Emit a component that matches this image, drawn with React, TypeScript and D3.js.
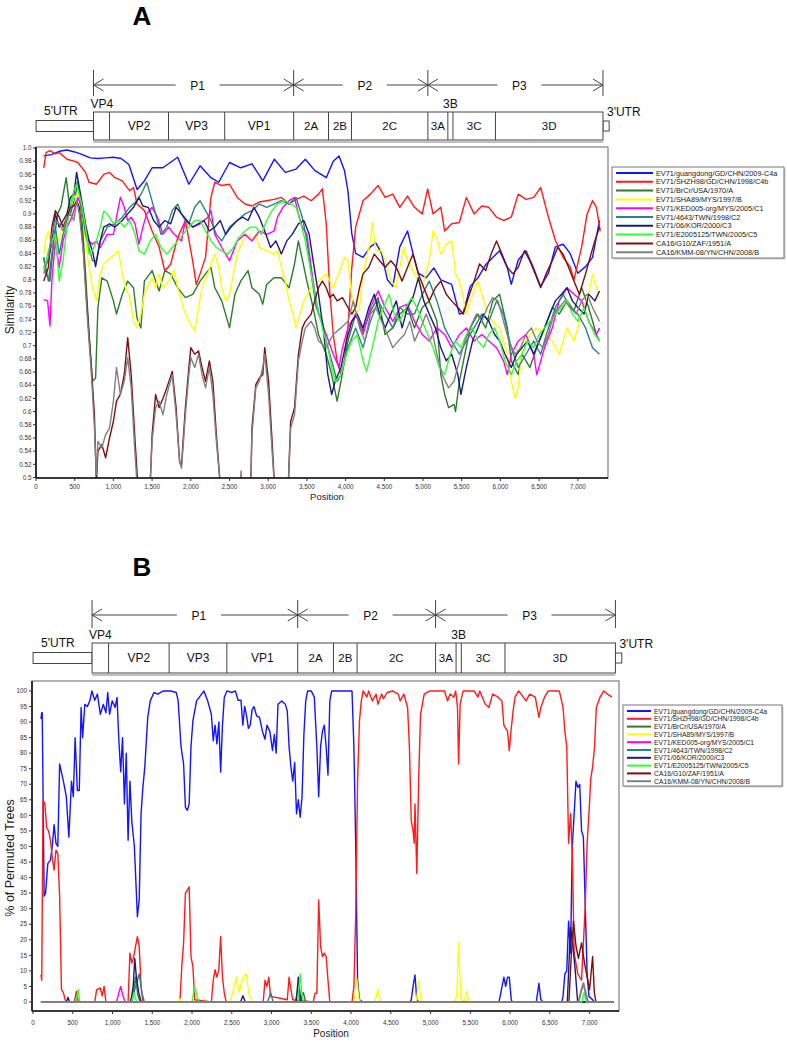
import React from "react";
import * as d3 from "d3";

const seriesNames = [
  "EV71/guangdong/GD/CHN/2009-C4a",
  "EV71/SHZH98/GD/CHN/1998/C4b",
  "EV71/BrCr/USA/1970/A",
  "EV71/SHA89/MYS/1997/B",
  "EV71/KED005-org/MYS/2005/C1",
  "EV71/4643/TWN/1998/C2",
  "EV71/06/KOR/2000/C3",
  "EV71/E2005125/TWN/2005/C5",
  "CA16/G10/ZAF/1951/A",
  "CA16/KMM-08/YN/CHN/2008/B",
];
const seriesColors = ["#1414ff", "#ff1c1c", "#2b7d2b", "#ffff00", "#ff00ff", "#2e8282", "#1c1c78", "#33ff33", "#7a1010", "#808080"];

// genome map (nt positions)
const utr5 = [1, 742];
const utr3 = [7325, 7405];
const segNames = ["VP4", "VP2", "VP3", "VP1", "2A", "2B", "2C", "3A", "3B", "3C", "3D"];
const segStarts = [743, 950, 1712, 2438, 3329, 3779, 4076, 5063, 5321, 5387, 5936];
const genomeEnd = 7324;
const polyNames = ["P1", "P2", "P3"];
const polyStarts = [743, 3329, 5063];

const xTicks = [0, 500, 1000, 1500, 2000, 2500, 3000, 3500, 4000, 4500, 5000, 5500, 6000, 6500, 7000];

// Panel A: similarity
const simGuangdong = [[100,0.988],[200,0.99],[300,0.995],[400,0.997],[500,0.994],[600,0.99],[700,0.985],[800,0.984],[900,0.985],[1000,0.986],[1100,0.984],[1200,0.975],[1306,0.937],[1400,0.95],[1500,0.97],[1640,0.97],[1830,0.986],[1975,0.945],[2120,0.973],[2260,0.955],[2360,0.948],[2500,0.978],[2645,0.97],[2790,0.976],[2930,0.95],[3080,0.983],[3220,0.963],[3360,0.968],[3480,0.983],[3600,0.966],[3750,0.955],[3840,0.98],[3915,0.988],[3985,0.966],[4030,0.935],[4080,0.87],[4130,0.84],[4225,0.834],[4320,0.85],[4390,0.856],[4465,0.84],[4540,0.8],[4610,0.79],[4700,0.85],[4800,0.874],[4870,0.84],[4940,0.81],[5040,0.803],[5140,0.818],[5230,0.8],[5370,0.793],[5470,0.748],[5520,0.75],[5610,0.79],[5710,0.803],[5810,0.823],[5900,0.834],[5990,0.844],[6090,0.818],[6140,0.793],[6230,0.83],[6330,0.844],[6420,0.82],[6520,0.79],[6620,0.81],[6710,0.85],[6810,0.854],[6900,0.84],[7000,0.81],[7100,0.82],[7190,0.834],[7280,0.89]];
const simSHZH98 = [[100,0.97],[130,0.993],[180,0.996],[250,0.991],[300,0.993],[400,0.983],[490,0.98],[540,0.978],[640,0.963],[685,0.948],[780,0.945],[875,0.96],[950,0.963],[1020,0.955],[1115,0.95],[1210,0.935],[1260,0.94],[1305,0.915],[1400,0.905],[1500,0.874],[1590,0.85],[1665,0.813],[1740,0.824],[1830,0.864],[1930,0.89],[2025,0.828],[2070,0.793],[2120,0.809],[2190,0.834],[2260,0.925],[2310,0.948],[2400,0.943],[2500,0.945],[2600,0.925],[2700,0.915],[2790,0.912],[2885,0.918],[2980,0.92],[3075,0.922],[3170,0.925],[3270,0.915],[3360,0.922],[3460,0.927],[3555,0.92],[3650,0.93],[3700,0.938],[3750,0.885],[3795,0.783],[3840,0.717],[3890,0.677],[3940,0.656],[3985,0.677],[4030,0.727],[4080,0.818],[4130,0.88],[4225,0.92],[4320,0.93],[4420,0.943],[4510,0.925],[4610,0.93],[4700,0.91],[4800,0.927],[4890,0.91],[4990,0.9],[5060,0.938],[5130,0.9],[5230,0.91],[5280,0.874],[5370,0.885],[5470,0.887],[5560,0.925],[5660,0.9],[5760,0.912],[5850,0.91],[5950,0.895],[6040,0.89],[6140,0.895],[6230,0.93],[6330,0.922],[6430,0.925],[6520,0.94],[6620,0.895],[6710,0.86],[6810,0.834],[6900,0.82],[6950,0.8],[7050,0.85],[7120,0.9],[7190,0.92],[7240,0.91],[7290,0.874]];
const simBrCr = [[100,0.834],[130,0.809],[180,0.798],[230,0.859],[280,0.9],[325,0.912],[390,0.955],[445,0.9],[490,0.92],[540,0.945],[590,0.9],[640,0.809],[685,0.717],[730,0.646],[770,0.651],[800,0.758],[850,0.803],[920,0.798],[1000,0.768],[1040,0.748],[1115,0.778],[1185,0.798],[1260,0.788],[1305,0.742],[1355,0.727],[1400,0.798],[1500,0.814],[1590,0.783],[1665,0.814],[1740,0.809],[1830,0.788],[1930,0.773],[2025,0.778],[2120,0.798],[2190,0.809],[2260,0.819],[2310,0.788],[2400,0.768],[2500,0.727],[2570,0.778],[2645,0.798],[2740,0.814],[2790,0.788],[2885,0.778],[2930,0.763],[2980,0.793],[3075,0.803],[3170,0.803],[3270,0.788],[3340,0.824],[3390,0.859],[3500,0.798],[3580,0.758],[3650,0.717],[3750,0.687],[3820,0.656],[3890,0.616],[3940,0.646],[4030,0.707],[4130,0.748],[4225,0.722],[4320,0.752],[4420,0.773],[4510,0.717],[4610,0.727],[4700,0.748],[4800,0.758],[4890,0.727],[4990,0.758],[5080,0.768],[5180,0.737],[5230,0.656],[5280,0.626],[5330,0.606],[5400,0.611],[5420,0.6],[5470,0.646],[5540,0.687],[5610,0.727],[5710,0.748],[5810,0.727],[5900,0.768],[5990,0.778],[6090,0.727],[6140,0.677],[6230,0.656],[6280,0.687],[6380,0.667],[6470,0.697],[6570,0.727],[6670,0.758],[6760,0.748],[6860,0.768],[6950,0.753],[7050,0.788],[7140,0.758],[7240,0.717],[7280,0.707]];
const simSHA89 = [[100,0.839],[130,0.864],[160,0.874],[205,0.849],[250,0.864],[300,0.859],[350,0.885],[400,0.9],[445,0.91],[490,0.925],[540,0.93],[590,0.91],[640,0.859],[685,0.819],[730,0.788],[780,0.768],[830,0.809],[875,0.824],[920,0.829],[970,0.834],[1020,0.839],[1065,0.844],[1115,0.809],[1160,0.788],[1210,0.773],[1260,0.737],[1305,0.727],[1355,0.748],[1400,0.778],[1450,0.793],[1500,0.803],[1545,0.788],[1590,0.809],[1640,0.788],[1715,0.798],[1785,0.814],[1830,0.788],[1880,0.768],[1930,0.748],[1975,0.737],[2050,0.722],[2100,0.758],[2145,0.788],[2220,0.809],[2260,0.824],[2310,0.839],[2360,0.819],[2400,0.788],[2450,0.768],[2500,0.778],[2550,0.809],[2600,0.839],[2670,0.859],[2740,0.869],[2790,0.859],[2840,0.869],[2885,0.849],[2980,0.844],[3075,0.839],[3120,0.844],[3170,0.819],[3220,0.798],[3270,0.768],[3320,0.748],[3360,0.727],[3410,0.748],[3460,0.768],[3555,0.788],[3650,0.798],[3750,0.809],[3840,0.788],[3940,0.819],[3985,0.834],[4030,0.829],[4080,0.773],[4130,0.748],[4180,0.758],[4225,0.809],[4270,0.834],[4320,0.859],[4345,0.887],[4390,0.844],[4465,0.844],[4510,0.829],[4585,0.798],[4655,0.788],[4700,0.819],[4750,0.849],[4800,0.829],[4890,0.809],[4990,0.788],[5080,0.829],[5130,0.874],[5180,0.864],[5230,0.839],[5300,0.854],[5370,0.859],[5420,0.809],[5470,0.798],[5520,0.773],[5560,0.748],[5610,0.768],[5710,0.798],[5810,0.758],[5900,0.737],[5990,0.727],[6090,0.687],[6140,0.646],[6190,0.62],[6230,0.636],[6280,0.697],[6380,0.717],[6470,0.727],[6570,0.717],[6670,0.707],[6760,0.687],[6860,0.727],[6950,0.707],[7050,0.748],[7140,0.778],[7190,0.809],[7280,0.773]];
const simKED005 = [[100,0.77],[150,0.768],[180,0.73],[205,0.798],[250,0.859],[300,0.819],[350,0.859],[400,0.88],[445,0.89],[490,0.905],[540,0.925],[590,0.91],[640,0.88],[685,0.859],[730,0.854],[780,0.859],[830,0.849],[875,0.859],[920,0.869],[1000,0.869],[1040,0.895],[1090,0.925],[1140,0.91],[1185,0.89],[1230,0.895],[1280,0.885],[1330,0.854],[1380,0.88],[1430,0.9],[1500,0.91],[1570,0.895],[1640,0.869],[1715,0.88],[1785,0.869],[1880,0.859],[1930,0.89],[2025,0.88],[2120,0.885],[2220,0.895],[2260,0.905],[2310,0.869],[2400,0.849],[2500,0.829],[2600,0.859],[2700,0.869],[2790,0.859],[2885,0.874],[2980,0.869],[3075,0.874],[3120,0.895],[3190,0.91],[3270,0.92],[3340,0.925],[3390,0.9],[3440,0.88],[3500,0.869],[3580,0.798],[3650,0.748],[3750,0.717],[3840,0.687],[3915,0.667],[3960,0.697],[4030,0.727],[4130,0.748],[4225,0.717],[4320,0.758],[4420,0.783],[4510,0.758],[4610,0.737],[4700,0.758],[4800,0.763],[4890,0.737],[4990,0.717],[5080,0.707],[5180,0.727],[5280,0.717],[5370,0.697],[5470,0.717],[5560,0.727],[5660,0.707],[5760,0.717],[5850,0.707],[5950,0.697],[6040,0.677],[6090,0.656],[6140,0.687],[6230,0.707],[6330,0.717],[6430,0.687],[6470,0.656],[6570,0.697],[6670,0.727],[6760,0.768],[6860,0.788],[6950,0.778],[7050,0.768],[7140,0.737],[7240,0.717],[7280,0.727]];
const sim4643 = [[100,0.834],[160,0.798],[205,0.839],[250,0.88],[300,0.839],[350,0.869],[400,0.89],[445,0.91],[490,0.935],[540,0.95],[590,0.91],[640,0.869],[685,0.849],[730,0.829],[780,0.829],[830,0.859],[875,0.869],[920,0.88],[1020,0.885],[1115,0.895],[1210,0.91],[1305,0.92],[1380,0.935],[1430,0.948],[1475,0.93],[1545,0.9],[1615,0.869],[1690,0.88],[1760,0.905],[1830,0.915],[1880,0.9],[1930,0.89],[1975,0.885],[2050,0.91],[2120,0.92],[2190,0.905],[2260,0.89],[2330,0.869],[2400,0.859],[2500,0.88],[2600,0.89],[2700,0.9],[2790,0.905],[2885,0.915],[2980,0.91],[3075,0.915],[3170,0.92],[3270,0.915],[3360,0.925],[3440,0.895],[3500,0.859],[3555,0.809],[3620,0.758],[3700,0.737],[3750,0.707],[3820,0.677],[3890,0.646],[3940,0.656],[4030,0.697],[4130,0.727],[4225,0.697],[4320,0.737],[4420,0.768],[4510,0.748],[4610,0.727],[4700,0.758],[4800,0.748],[4890,0.748],[4990,0.778],[5080,0.798],[5180,0.768],[5280,0.727],[5370,0.707],[5470,0.687],[5560,0.707],[5660,0.727],[5760,0.748],[5850,0.737],[5950,0.768],[6040,0.748],[6140,0.697],[6230,0.667],[6330,0.687],[6430,0.707],[6520,0.687],[6620,0.727],[6710,0.758],[6810,0.778],[6900,0.758],[7000,0.748],[7100,0.727],[7190,0.697],[7280,0.687]];
const simKOR = [[100,0.819],[160,0.829],[205,0.859],[250,0.9],[300,0.88],[350,0.89],[400,0.9],[445,0.925],[490,0.93],[525,0.963],[590,0.92],[640,0.885],[685,0.859],[730,0.844],[770,0.82],[830,0.859],[875,0.88],[950,0.885],[1020,0.88],[1115,0.89],[1185,0.9],[1260,0.91],[1330,0.925],[1380,0.912],[1450,0.91],[1520,0.89],[1590,0.88],[1665,0.89],[1740,0.885],[1810,0.91],[1880,0.9],[1950,0.89],[2025,0.88],[2095,0.885],[2170,0.89],[2240,0.874],[2310,0.88],[2380,0.89],[2450,0.869],[2520,0.88],[2600,0.89],[2670,0.895],[2740,0.89],[2815,0.91],[2885,0.895],[2955,0.874],[3030,0.849],[3100,0.859],[3170,0.839],[3240,0.859],[3310,0.869],[3390,0.885],[3460,0.89],[3530,0.869],[3580,0.829],[3650,0.778],[3720,0.717],[3770,0.656],[3820,0.626],[3865,0.646],[3940,0.667],[4010,0.707],[4080,0.737],[4150,0.748],[4225,0.727],[4300,0.758],[4370,0.778],[4440,0.748],[4510,0.727],[4585,0.748],[4655,0.768],[4730,0.727],[4800,0.758],[4870,0.773],[4940,0.803],[5010,0.768],[5080,0.748],[5160,0.727],[5230,0.697],[5300,0.677],[5370,0.687],[5450,0.656],[5490,0.626],[5560,0.667],[5640,0.707],[5710,0.727],[5780,0.748],[5850,0.737],[5925,0.717],[5990,0.707],[6060,0.687],[6140,0.667],[6210,0.687],[6280,0.697],[6350,0.707],[6430,0.687],[6500,0.707],[6570,0.727],[6640,0.748],[6710,0.768],[6790,0.778],[6860,0.788],[6930,0.768],[7000,0.758],[7080,0.748],[7140,0.778],[7220,0.768],[7280,0.783]];
const simE2005125 = [[100,0.814],[160,0.844],[205,0.859],[250,0.869],[300,0.798],[350,0.829],[400,0.88],[445,0.91],[490,0.935],[525,0.945],[590,0.915],[640,0.88],[685,0.839],[730,0.844],[780,0.859],[830,0.88],[875,0.904],[920,0.9],[1000,0.885],[1065,0.89],[1140,0.88],[1210,0.89],[1280,0.869],[1330,0.844],[1400,0.839],[1475,0.859],[1545,0.869],[1615,0.849],[1690,0.839],[1760,0.849],[1830,0.859],[1900,0.869],[1975,0.88],[2050,0.89],[2120,0.89],[2190,0.874],[2260,0.859],[2330,0.849],[2400,0.844],[2480,0.839],[2550,0.849],[2620,0.864],[2700,0.874],[2770,0.88],[2840,0.88],[2910,0.869],[2980,0.89],[3050,0.905],[3120,0.915],[3220,0.92],[3290,0.915],[3360,0.91],[3410,0.89],[3480,0.859],[3555,0.809],[3620,0.768],[3700,0.727],[3770,0.697],[3820,0.667],[3865,0.646],[3940,0.656],[4010,0.687],[4080,0.707],[4150,0.717],[4225,0.677],[4270,0.661],[4345,0.697],[4420,0.737],[4490,0.758],[4560,0.778],[4630,0.748],[4700,0.737],[4780,0.758],[4850,0.773],[4920,0.758],[4990,0.737],[5060,0.717],[5130,0.697],[5210,0.667],[5280,0.656],[5350,0.687],[5420,0.707],[5490,0.697],[5560,0.717],[5640,0.727],[5710,0.707],[5780,0.697],[5850,0.717],[5925,0.727],[5990,0.707],[6060,0.677],[6140,0.656],[6210,0.677],[6280,0.687],[6350,0.707],[6430,0.697],[6500,0.717],[6570,0.727],[6640,0.737],[6710,0.748],[6790,0.758],[6860,0.768],[6930,0.748],[7000,0.737],[7080,0.758],[7140,0.737],[7220,0.717],[7280,0.707]];
const simG10 = [[100,0.798],[160,0.819],[205,0.88],[250,0.905],[300,0.895],[350,0.88],[400,0.895],[445,0.91],[490,0.912],[525,0.92],[560,0.91],[610,0.849],[660,0.758],[710,0.677],[755,0.595],[780,0.49],[800,0.54],[850,0.55],[900,0.53],[950,0.56],[1000,0.585],[1040,0.616],[1090,0.626],[1140,0.656],[1185,0.712],[1230,0.656],[1280,0.555],[1315,0.49],[1475,0.49],[1500,0.565],[1545,0.626],[1590,0.606],[1640,0.62],[1690,0.636],[1760,0.661],[1810,0.606],[1855,0.524],[1880,0.519],[1930,0.606],[1975,0.667],[2000,0.697],[2050,0.687],[2100,0.692],[2145,0.667],[2190,0.646],[2240,0.677],[2285,0.646],[2330,0.565],[2380,0.49],[2775,0.49],[2790,0.575],[2840,0.641],[2885,0.651],[2930,0.656],[2955,0.697],[3005,0.646],[3050,0.555],[3080,0.49],[3260,0.49],[3290,0.585],[3340,0.606],[3390,0.687],[3440,0.727],[3480,0.737],[3555,0.748],[3600,0.768],[3650,0.788],[3700,0.798],[3750,0.788],[3795,0.773],[3840,0.778],[3890,0.768],[3960,0.773],[4030,0.758],[4080,0.748],[4130,0.758],[4180,0.788],[4225,0.809],[4300,0.819],[4370,0.839],[4440,0.829],[4510,0.819],[4585,0.829],[4655,0.819],[4730,0.798],[4800,0.819],[4870,0.839],[4940,0.809],[5010,0.788],[5080,0.768],[5160,0.788],[5230,0.798],[5300,0.778],[5370,0.768],[5450,0.758],[5520,0.748],[5600,0.778],[5660,0.798],[5730,0.824],[5810,0.814],[5880,0.839],[5950,0.859],[6020,0.839],[6090,0.819],[6160,0.809],[6230,0.819],[6310,0.844],[6380,0.829],[6450,0.809],[6520,0.788],[6590,0.809],[6670,0.829],[6740,0.849],[6810,0.839],[6880,0.819],[6950,0.798],[7020,0.778],[7100,0.809],[7170,0.839],[7220,0.859],[7280,0.88]];
const simKMM08 = [[100,0.809],[160,0.834],[205,0.869],[250,0.89],[300,0.885],[350,0.874],[400,0.895],[445,0.9],[490,0.89],[525,0.92],[560,0.9],[610,0.844],[660,0.748],[710,0.667],[755,0.575],[780,0.504],[800,0.555],[850,0.545],[900,0.565],[950,0.575],[1000,0.616],[1040,0.667],[1090,0.626],[1140,0.646],[1185,0.682],[1230,0.636],[1280,0.535],[1305,0.49],[1475,0.49],[1500,0.555],[1545,0.606],[1590,0.616],[1640,0.595],[1690,0.626],[1760,0.656],[1810,0.595],[1855,0.524],[1880,0.514],[1930,0.595],[1975,0.656],[2000,0.682],[2050,0.667],[2100,0.687],[2145,0.656],[2190,0.636],[2240,0.667],[2285,0.626],[2330,0.555],[2380,0.49],[2640,0.49],[2650,0.51],[2660,0.49],[2775,0.49],[2790,0.565],[2840,0.636],[2885,0.646],[2930,0.667],[2955,0.687],[3005,0.626],[3050,0.54],[3080,0.49],[3260,0.49],[3290,0.575],[3340,0.595],[3390,0.677],[3440,0.707],[3480,0.727],[3555,0.737],[3600,0.727],[3650,0.707],[3750,0.697],[3840,0.717],[3940,0.727],[4030,0.737],[4100,0.768],[4180,0.727],[4250,0.707],[4320,0.748],[4390,0.758],[4465,0.737],[4540,0.717],[4610,0.697],[4680,0.707],[4760,0.717],[4830,0.737],[4890,0.707],[4970,0.727],[5040,0.748],[5110,0.727],[5180,0.687],[5250,0.656],[5330,0.636],[5400,0.646],[5470,0.677],[5540,0.707],[5610,0.727],[5690,0.748],[5760,0.737],[5830,0.758],[5900,0.773],[5970,0.768],[6040,0.737],[6110,0.707],[6190,0.687],[6260,0.697],[6330,0.717],[6400,0.727],[6470,0.707],[6550,0.697],[6620,0.717],[6690,0.748],[6760,0.758],[6830,0.768],[6900,0.758],[6980,0.748],[7050,0.768],[7120,0.778],[7190,0.758],[7280,0.737]];

// Panel B: % of permuted trees
const bootGuangdong = [[100,91],[110,93],[116,93],[140,34],[158,35],[186,44.5],[219,45.6],[242,50],[265,57],[289,51],[312,50],[335,76.5],[382,71],[419,66],[451,53],[484,71],[507,66],[530,85],[558,68],[582,68],[605,94.7],[624,85],[652,95.7],[684,95],[717,97],[740,100],[777,97],[810,99],[847,92.5],[884,95.7],[917,93],[940,99.5],[963,92.5],[996,96.8],[1033,94.7],[1057,97.9],[1080,84],[1103,74],[1126,85],[1150,63.7],[1173,80],[1196,52],[1219,71],[1243,58],[1275,50],[1313,27.4],[1336,33],[1359,60.5],[1382,69],[1406,75.5],[1443,91.5],[1475,96.8],[1522,99.5],[1569,99],[1639,100],[1732,100],[1801,99.5],[1825,97],[1862,82],[1894,76.5],[1917,62.6],[1941,61.6],[1964,63.7],[1987,82],[2011,90.4],[2057,96.8],[2104,98.4],[2150,100],[2197,96.8],[2243,92.5],[2267,84],[2290,89],[2313,83],[2337,90],[2360,73.9],[2383,89],[2406,98],[2439,100],[2499,99.5],[2546,100],[2579,97],[2616,97],[2639,89],[2662,95],[2686,92],[2709,88],[2732,89],[2756,94],[2779,95],[2812,92],[2849,91.5],[2886,87],[2918,84.5],[2942,89],[2979,87],[3012,80.8],[3035,86],[3058,80],[3081,95.7],[3128,96.8],[3174,95.7],[3198,93.5],[3221,82],[3244,75.5],[3267,71],[3291,77],[3314,60.5],[3337,65],[3360,59.4],[3384,66],[3407,86],[3430,96.8],[3454,100],[3500,100],[3538,98],[3570,82],[3593,66],[3617,82],[3640,87],[3663,89],[3687,82],[3710,73],[3733,96.8],[3756,100],[4012,100],[4036,82],[4059,50],[4082,7],[4106,0.7],[4152,0],[4740,0],[4757,0.7],[4780,5],[4804,8.7],[4827,0.7],[4850,0],[5860,0],[5875,1.8],[5922,8],[5945,5],[5968,8],[5990,8],[6015,0.7],[6030,0],[6330,0],[6340,1.8],[6363,6],[6385,1],[6410,0],[6650,0],[6666,1.8],[6689,9],[6713,10],[6736,26],[6760,15.7],[6783,50],[6806,60.5],[6829,71],[6852,69],[6876,70],[6899,55],[6922,53],[6945,31.7],[6969,9],[6992,1.8],[7038,0.7],[7060,0],[7300,0]];
const bootSHZH98 = [[100,8.8],[110,7],[126,64.8],[149,63.7],[172,56],[196,55],[219,52],[242,46.6],[265,42.4],[289,48.8],[312,47.7],[335,33.8],[358,4],[382,3],[405,0.7],[428,0],[521,0],[545,3.4],[568,0],[777,0],[800,4],[847,4.5],[870,2],[894,5],[917,0],[1196,0],[1219,15.7],[1243,12.5],[1266,14.5],[1289,17.8],[1313,21],[1336,17.8],[1359,5],[1382,0],[1848,0],[1871,11.4],[1894,19],[1917,35],[1941,36],[1964,37],[1987,14.6],[2011,11.4],[2034,0.7],[2243,0],[2267,7],[2290,10.4],[2313,8],[2337,10.4],[2360,21],[2383,8],[2406,2.8],[2430,0],[2895,0],[2918,7],[2942,5],[2965,8],[2988,1.8],[3198,0.7],[3221,8],[3244,4],[3267,0.7],[3524,0],[3547,2.8],[3570,2.8],[3593,32.8],[3617,17.8],[3640,14.6],[3663,15.7],[3687,14.6],[3710,7],[3733,0],[4012,0],[4036,5],[4059,28.5],[4082,71],[4106,90.4],[4129,96.8],[4152,100],[4199,98],[4222,100],[4268,96.8],[4315,99],[4338,95.7],[4385,99],[4408,97.5],[4454,99.5],[4524,100],[4594,99],[4617,96.8],[4664,99],[4711,94.7],[4734,82],[4757,58.4],[4780,55],[4794,51],[4804,63.7],[4827,41.3],[4850,71],[4874,92.5],[4920,99],[4990,100],[5176,100],[5213,96.8],[5246,99],[5292,98],[5316,100],[5339,94.7],[5353,76.5],[5372,95.7],[5409,100],[5548,100],[5595,98],[5618,100],[5688,95.7],[5734,94.7],[5781,99],[5851,98],[5897,96.8],[5922,89],[5968,87],[5990,80.8],[6015,88],[6038,93.5],[6062,98],[6108,100],[6201,96.8],[6247,99],[6317,98],[6363,91.5],[6387,94.7],[6433,98],[6480,100],[6619,100],[6666,94.7],[6689,87],[6713,82],[6736,51],[6760,60.5],[6783,47.7],[6806,15.7],[6852,9],[6899,7],[6945,30.6],[6969,51],[6992,60.5],[7015,72],[7038,75.5],[7062,82],[7085,94.7],[7131,98],[7178,100],[7224,99],[7280,98]];
const bootBrCr = [[100,0],[1220,0],[1260,3],[1290,8],[1320,2],[1350,0],[3350,0],[3400,3],[3430,0],[7300,0]];
const bootSHA89 = [[100,0],[1830,0],[1850,1],[1870,0],[2480,0],[2520,4],[2560,8],[2590,3],[2640,8],[2680,9],[2720,2],[2760,0],[4040,0],[4070,7.7],[4100,1],[4120,0],[4300,0],[4338,4],[4370,0],[4820,0],[4850,7],[4880,0],[5300,0],[5330,2],[5353,19],[5380,1],[5420,0],[5455,3.4],[5480,0],[7300,0]];
const bootKED005 = [[100,0],[1050,0],[1080,3],[1103,5],[1130,2],[1160,0],[7300,0]];
const boot4643 = [[100,0],[1240,0],[1280,4],[1336,9],[1370,3],[1400,0],[2950,0],[2990,3],[3020,0],[3300,0],[3330,4],[3360,0],[7300,0]];
const bootKOR = [[100,0],[420,0],[440,1.5],[460,0],[1230,0],[1260,5],[1280,14],[1300,8],[1330,3],[1360,0],[2610,0],[2640,2],[2670,0],[3310,0],[3337,8],[3360,2],[3380,0],[6720,0],[6760,24],[6790,18],[6820,10],[6850,0],[7300,0]];
const bootE2005125 = [[100,0],[540,0],[568,4],[590,0],[1240,0],[1270,3],[1290,1],[1310,0],[2000,0],[2034,5],[2060,2],[2090,0],[3330,0],[3360,9],[3380,3],[3400,0],[6900,0],[6930,3],[6960,0],[7300,0]];
const bootG10 = [[100,0],[6740,0],[6770,15],[6797,26],[6829,18],[6860,14],[6899,19],[6936,12.5],[6970,8],[7000,4],[7038,14.6],[7060,3],[7080,0],[7300,0]];
const bootKMM08 = [[100,0],[6860,0],[6899,4],[6922,6],[6950,3],[6980,0],[7300,0]];

const simSeries = [simGuangdong, simSHZH98, simBrCr, simSHA89, simKED005, sim4643, simKOR, simE2005125, simG10, simKMM08];
const bootSeries = [bootGuangdong, bootSHZH98, bootBrCr, bootSHA89, bootKED005, boot4643, bootKOR, bootE2005125, bootG10, bootKMM08];

const FONT = "'Liberation Sans', Arial, sans-serif";

type Geo = {
  letter: string; letterY: number; arrowY: number; tickTop: number; tickBot: number;
  boxTop: number; boxBot: number; x: d3.ScaleLinear<number, number>;
};

function Genome({ g }: { g: Geo }) {
  const { x } = g;
  const bounds = [...segStarts, genomeEnd + 1];
  const pBounds = [...polyStarts, genomeEnd + 1];
  const midY = (g.boxTop + g.boxBot) / 2;
  return (
    <g fontFamily={FONT} fill="#111">
      <text x={142} y={g.letterY} fontSize={26} fontWeight="bold" textAnchor="middle" fill="#000">{g.letter}</text>
      {pBounds.map((b, i) => (
        <line key={"t" + i} x1={x(b)} x2={x(b)} y1={g.tickTop} y2={g.tickBot} stroke="#444" strokeWidth={1} />
      ))}
      {polyNames.map((p, i) => {
        const a = x(pBounds[i]);
        const bb = x(pBounds[i + 1]);
        const c = (a + bb) / 2 + 4;
        const y = g.arrowY;
        return (
          <g key={p} stroke="#444" strokeWidth={1} fill="none">
            <line x1={a} x2={c - 22} y1={y} y2={y} />
            <line x1={c + 22} x2={bb} y1={y} y2={y} />
            <polyline points={`${a + 10},${y - 6} ${a},${y} ${a + 10},${y + 6}`} />
            <polyline points={`${bb - 10},${y - 6} ${bb},${y} ${bb - 10},${y + 6}`} />
            <text x={c} y={y + 4.5} fontSize={12} textAnchor="middle" fill="#111" stroke="none">{p}</text>
          </g>
        );
      })}
      <rect x={x(utr5[0])} y={midY - 5.5} width={x(utr5[1]) - x(utr5[0])} height={11} fill="#fff" stroke="#444" />
      <rect x={x(utr3[0])} y={midY - 5} width={x(utr3[1]) - x(utr3[0])} height={10} fill="#fff" stroke="#444" />
      <line x1={x(segStarts[0])} x2={x(genomeEnd + 1)} y1={g.boxBot + 2} y2={g.boxBot + 2} stroke="#aaa" strokeWidth={1.5} />
      <rect x={x(segStarts[0])} y={g.boxTop} width={x(genomeEnd + 1) - x(segStarts[0])} height={g.boxBot - g.boxTop} fill="#fff" stroke="#444" />
      {segStarts.slice(1).map((s, i) => (
        <line key={"s" + i} x1={x(s)} x2={x(s)} y1={g.boxTop} y2={g.boxBot} stroke="#444" />
      ))}
      {segNames.map((n, i) => {
        const a = x(bounds[i]);
        const b = x(bounds[i + 1]);
        if (n === "VP4") return <text key={n} x={a - 3} y={g.boxTop - 4} fontSize={12}>{n}</text>;
        if (n === "3B") return <text key={n} x={(a + b) / 2} y={g.boxTop - 4} fontSize={12} textAnchor="middle">{n}</text>;
        return <text key={n} x={(a + b) / 2} y={midY + 4} fontSize={n.length > 2 ? 12 : 11.5} textAnchor="middle">{n}</text>;
      })}
      <text x={x(utr5[0]) + 8} y={midY - 11} fontSize={12}>5'UTR</text>
      <text x={x(utr3[0]) + 4} y={midY - 10} fontSize={12}>3'UTR</text>
    </g>
  );
}

function Legend({ x0, y0, w, h, rowH, lineLen, fs }: any) {
  return (
    <g fontFamily={FONT}>
      <rect x={x0 + 1.5} y={y0 + 1.5} width={w} height={h} fill="#ccc" />
      <rect x={x0} y={y0} width={w} height={h} fill="#fff" stroke="#777" />
      {seriesNames.map((n, i) => {
        const y = y0 + 6 + i * rowH;
        return (
          <g key={n}>
            <line x1={x0 + 4} x2={x0 + 4 + lineLen} y1={y} y2={y} stroke={seriesColors[i]} strokeWidth={2} />
            <text x={x0 + 7 + lineLen} y={y + 2.6} fontSize={fs} fill="#222">{n}</text>
          </g>
        );
      })}
    </g>
  );
}

export default function App() {
  // Panel A scales
  const xA = d3.scaleLinear().domain([0, 7390]).range([36, 608]);
  const yA = d3.scaleLinear().domain([0.5, 1.0]).range([477.5, 148]);
  // Panel B scales
  const xB = d3.scaleLinear().domain([0, 7370]).range([33, 619]);
  const yB = d3.scaleLinear().domain([-2.9, 103.2]).range([1011, 681]);

  const lineA = d3.line<number[]>().x((d) => xA(d[0])).y((d) => yA(d[1]));
  const lineB = d3.line<number[]>().x((d) => xB(d[0])).y((d) => yB(d[1]));

  const yTicksA = d3.range(25, 51).map((i) => i / 50);
  const yTicksB = d3.range(0, 101, 5);
  const fmtX = d3.format(",");
  const fmtA = (v: number) => (v === 1 ? "1.0" : String(+v.toFixed(2)));

  const A = { left: 36, right: 608, top: 147, bottom: 478 };
  const B = { left: 32, right: 619, top: 681, bottom: 1011 };

  return (
    <svg width={787} height={1042} style={{ position: "absolute", left: 0, top: 0, background: "#fff" }}>
      <defs>
        <clipPath id="clipA"><rect x={A.left} y={A.top} width={A.right - A.left} height={A.bottom - A.top} /></clipPath>
        <clipPath id="clipB"><rect x={B.left} y={B.top} width={B.right - B.left} height={B.bottom - B.top} /></clipPath>
      </defs>
      <rect width={787} height={1042} fill="#fff" />

      <Genome g={{ letter: "A", letterY: 25, arrowY: 85, tickTop: 70, tickBot: 96, boxTop: 112, boxBot: 140, x: xA }} />
      <Genome g={{ letter: "B", letterY: 576, arrowY: 615, tickTop: 600, tickBot: 628, boxTop: 643, boxBot: 673, x: xB }} />

      {/* Panel A */}
      <rect x={A.left} y={A.top} width={A.right - A.left} height={A.bottom - A.top} fill="#fff" stroke="#666" />
      <g clipPath="url(#clipA)" fill="none">
        {simSeries.map((s, i) => (
          <path key={i} d={lineA(s) || ""} stroke={seriesColors[i]} strokeWidth={1.4} strokeLinejoin="round" />
        ))}
      </g>
      <line x1={A.left} x2={A.left} y1={A.top} y2={A.bottom} stroke="#111" strokeWidth={1.6} />
      <line x1={A.left} x2={A.right} y1={A.bottom} y2={A.bottom} stroke="#111" strokeWidth={1.6} />
      <g fontFamily={FONT} fontSize={6.3} fill="#333">
        {yTicksA.map((t) => (
          <g key={t}>
            <line x1={A.left - 3} x2={A.left} y1={yA(t)} y2={yA(t)} stroke="#333" />
            <text x={A.left - 4.5} y={yA(t) + 2.2} textAnchor="end">{fmtA(t)}</text>
          </g>
        ))}
        {xTicks.map((t) => (
          <g key={t}>
            <line x1={xA(t)} x2={xA(t)} y1={A.bottom} y2={A.bottom + 3} stroke="#333" />
            <text x={xA(t)} y={A.bottom + 11} textAnchor="middle">{fmtX(t)}</text>
          </g>
        ))}
      </g>
      <text x={327} y={500} fontFamily={FONT} fontSize={9.5} textAnchor="middle" fill="#222">Position</text>
      <text transform={`translate(14,310) rotate(-90)`} fontFamily={FONT} fontSize={12} textAnchor="middle" fill="#222">Similarity</text>
      <Legend x0={612} y0={167} w={172} h={91} rowH={8.8} lineLen={37} fs={7.3} />

      {/* Panel B */}
      <rect x={B.left} y={B.top} width={B.right - B.left} height={B.bottom - B.top} fill="#fff" stroke="#666" />
      <g clipPath="url(#clipB)" fill="none">
        {bootSeries.map((s, i) => (
          <path key={i} d={lineB(s) || ""} stroke={seriesColors[i]} strokeWidth={i === 9 ? 2 : 1.4} strokeLinejoin="round" />
        ))}
      </g>
      <line x1={B.left} x2={B.left} y1={B.top} y2={B.bottom} stroke="#111" strokeWidth={1.6} />
      <line x1={B.left} x2={B.right} y1={B.bottom} y2={B.bottom} stroke="#111" strokeWidth={1.6} />
      <g fontFamily={FONT} fontSize={6.3} fill="#333">
        {yTicksB.map((t) => (
          <g key={t}>
            <line x1={B.left - 3} x2={B.left} y1={yB(t)} y2={yB(t)} stroke="#333" />
            <text x={B.left - 5} y={yB(t) + 2.2} textAnchor="end">{t}</text>
          </g>
        ))}
        {xTicks.map((t) => (
          <g key={t}>
            <line x1={xB(t)} x2={xB(t)} y1={B.bottom} y2={B.bottom + 3} stroke="#333" />
            <text x={xB(t)} y={B.bottom + 14} textAnchor="middle">{fmtX(t)}</text>
          </g>
        ))}
      </g>
      <text x={331} y={1037} fontFamily={FONT} fontSize={10} textAnchor="middle" fill="#222">Position</text>
      <text transform={`translate(14,858) rotate(-90)`} fontFamily={FONT} fontSize={12.5} textAnchor="middle" fill="#222">% of Permuted Trees</text>
      <Legend x0={623} y0={705} w={159} h={81} rowH={7.8} lineLen={24} fs={6.8} />
    </svg>
  );
}
